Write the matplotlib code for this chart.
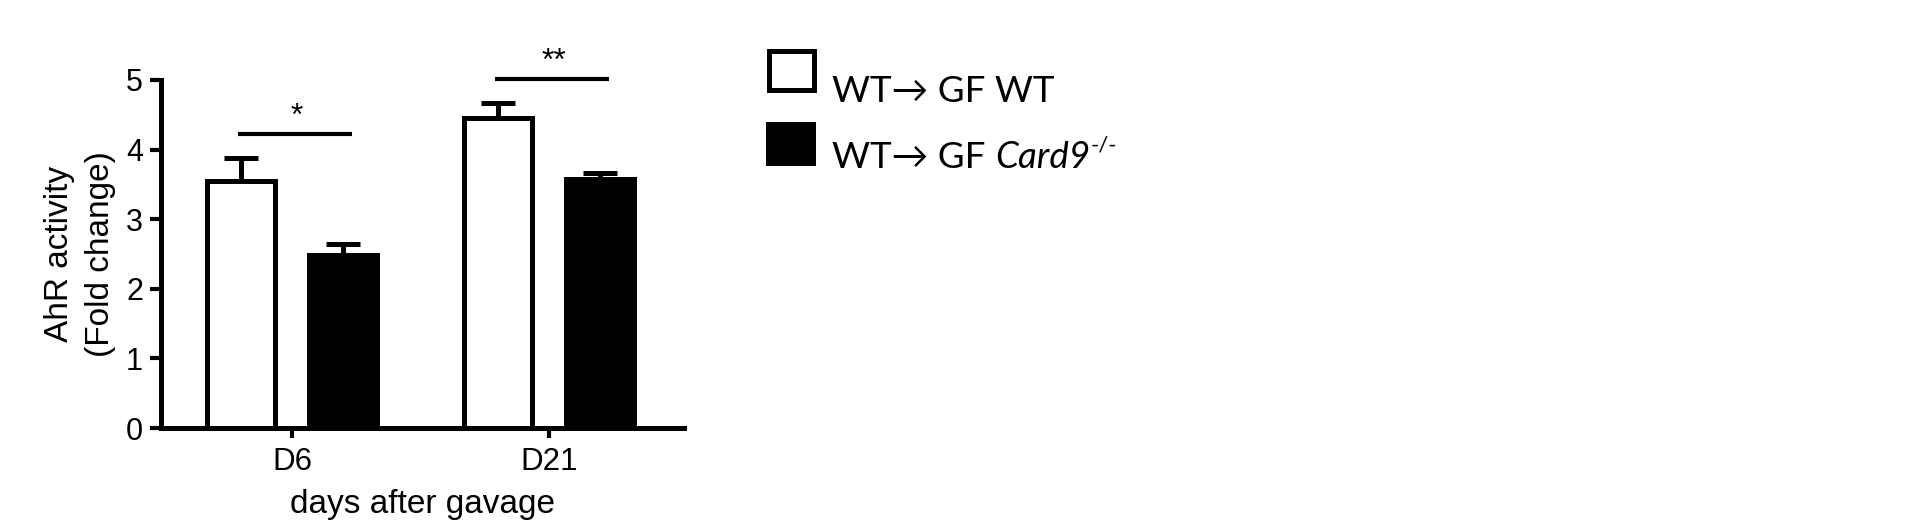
import matplotlib
matplotlib.use("Agg")
import matplotlib.pyplot as plt
import numpy as np
from matplotlib.patches import Rectangle

# ---- data ----
groups = ["D6", "D21"]
series_names = ["WT\u2192 GF WT", "WT\u2192 GF Card9-/-"]
wt_means = [3.55, 4.46]
wt_err = [0.33, 0.21]
ko_means = [2.49, 3.58]
ko_err = [0.15, 0.09]
sig_heights = [4.22, 5.02]
sig_labels = ["*", "**"]
y_ticks = [0, 1, 2, 3, 4, 5]

axfont = ["Liberation Sans", "DejaVu Sans"]

W, H = 1920, 526
fig = plt.figure(figsize=(W / 100, H / 100), dpi=100)
ax = fig.add_axes([161 / W, 1 - 428 / H, (684 - 161) / W, (428 - 80) / H])

lw = 3.6
x = np.arange(len(groups))
bw = 0.263
off = 0.199

ax.bar(x - off, wt_means, width=bw, facecolor="white", edgecolor="black", linewidth=lw, zorder=2)
ax.bar(x + off, ko_means, width=bw, facecolor="black", edgecolor="black", linewidth=lw, zorder=2)
ax.errorbar(x - off, wt_means, yerr=[np.zeros(len(groups)), wt_err], fmt="none", ecolor="black",
            elinewidth=lw, capsize=12, capthick=lw, zorder=1)
ax.errorbar(x + off, ko_means, yerr=[np.zeros(len(groups)), ko_err], fmt="none", ecolor="black",
            elinewidth=lw, capsize=12, capthick=lw, zorder=1)

for xi, h, lab in zip(x, sig_heights, sig_labels):
    ax.plot([xi - 0.21, xi + 0.235], [h, h], color="black", linewidth=3.0, clip_on=False,
            solid_capstyle="butt")
    ax.text(xi + 0.02, h + 0.13, lab, ha="center", va="baseline", fontsize=23, family=axfont,
            clip_on=False)

ax.set_xlim(-0.51, 1.525)
ax.set_ylim(0, 5)
ax.set_yticks(y_ticks)
ax.set_yticklabels([str(t) for t in y_ticks], family=axfont, fontsize=22)
ax.set_xticks(x)
ax.set_xticklabels(groups, family=axfont, fontsize=22.5)
for s in ["top", "right"]:
    ax.spines[s].set_visible(False)
for s in ["left", "bottom"]:
    ax.spines[s].set_linewidth(lw)
ax.tick_params(axis="y", direction="out", length=8, width=3, pad=5)
ax.tick_params(axis="x", direction="out", length=7, width=3, pad=7)
ax.set_xlabel("days after gavage", family=axfont, fontsize=24, labelpad=8)
ax.set_ylabel("AhR activity\n(Fold change)", family=axfont, fontsize=24, labelpad=7,
              linespacing=1.42)

# ---- legend (drawn manually) ----
def fx(px):
    return px / W

def fy(py):
    return 1 - py / H

fig.add_artist(Rectangle((fx(768.5), fy(90.5)), fx(45), 39 / H, transform=fig.transFigure,
                         facecolor="white", edgecolor="black", linewidth=lw))
fig.add_artist(Rectangle((fx(766), fy(166)), fx(50), 44 / H, transform=fig.transFigure,
                         facecolor="black", edgecolor="black", linewidth=0))

legfont = ["Lato", "DejaVu Sans"]
lsize = 26.5
fig.text(fx(832), fy(102), series_names[0], family=legfont, fontsize=lsize, va="baseline")

renderer = fig.canvas.get_renderer()
t_a = fig.text(fx(832), fy(168), "WT\u2192 GF ", family=legfont, fontsize=lsize, va="baseline")
bb = t_a.get_window_extent(renderer)
t_b = fig.text(bb.x1 / W, fy(168), "Card9", family=legfont, fontsize=lsize, style="italic",
               va="baseline")
bb2 = t_b.get_window_extent(renderer)
fig.text(bb2.x1 / W + 1 / W, fy(152), "-/-", family=legfont, fontsize=16, va="baseline")

fig.savefig("out.png", dpi=100)
